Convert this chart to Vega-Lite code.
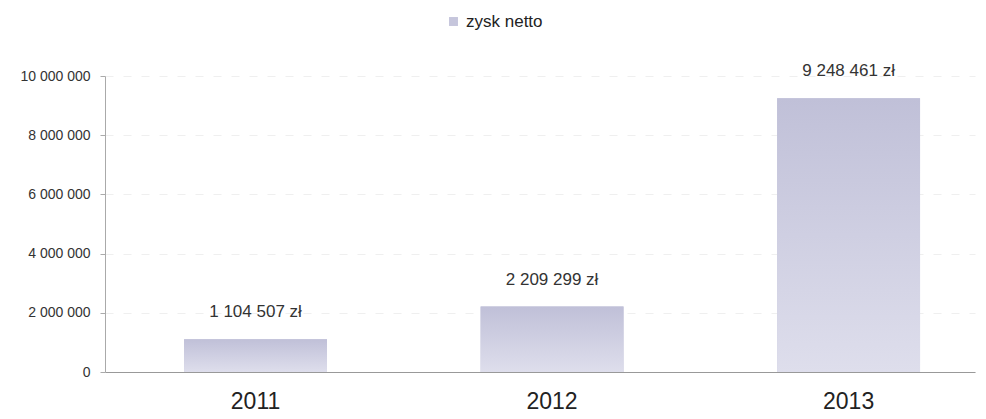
{
  "$schema": "https://vega.github.io/schema/vega-lite/v6.json",
  "autosize": "none",
  "width": 870,
  "height": 296,
  "padding": {"left": 105, "top": 76, "right": 11, "bottom": 47},
  "background": "white",
  "config": {
    "locale": {"number": {"decimal": ",", "thousands": " ", "grouping": [3], "currency": ["", " zł"]}},
    "font": "Liberation Sans",
    "view": {"stroke": null}
  },
  "data": {"values": [
    {"rok": "2011", "zysk": 1104507, "seria": "zysk netto"},
    {"rok": "2012", "zysk": 2209299, "seria": "zysk netto"},
    {"rok": "2013", "zysk": 9248461, "seria": "zysk netto"}
  ]},
  "encoding": {
    "x": {"field": "rok", "type": "nominal",
      "scale": {"paddingInner": 0.518, "paddingOuter": 0.226, "align": 0.59},
      "axis": {"title": null, "labelAngle": 0, "labelFontSize": 23, "labelColor": "#222", "labelPadding": 18,
        "ticks": false, "domainColor": "#999", "domainWidth": 1, "grid": false}},
    "y": {"field": "zysk", "type": "quantitative",
      "scale": {"domain": [0, 10000000]},
      "axis": {"title": null, "values": [0, 2000000, 4000000, 6000000, 8000000, 10000000], "format": ",d",
        "labelFontSize": 14, "labelColor": "#333", "labelPadding": 10, "tickSize": 5, "tickColor": "#aaa",
        "domainColor": "#aaa", "gridColor": "#efefef", "gridDash": [8, 10], "gridWidth": 1}}
  },
  "layer": [
    {
      "mark": {"type": "bar"},
      "encoding": {
        "color": {"field": "seria", "type": "nominal",
          "scale": {"range": ["#c6c6dc"]},
          "legend": {"title": null, "orient": "none", "legendX": 340, "legendY": -63,
            "labelFontSize": 17, "labelColor": "#222", "labelOffset": 4, "symbolType": "square", "symbolSize": 80, "symbolStrokeWidth": 0}}
      }
    },
    {
      "mark": {"type": "bar", "color": {"gradient": "linear", "x1": 0, "y1": 0, "x2": 0, "y2": 1,
        "stops": [{"offset": 0, "color": "#c0c0d8"}, {"offset": 1, "color": "#dedeec"}]}}
    },
    {
      "mark": {"type": "text", "dy": -27, "fontSize": 17, "color": "#333"},
      "encoding": {"text": {"field": "zysk", "type": "quantitative", "format": "$,d"}}
    }
  ]
}
